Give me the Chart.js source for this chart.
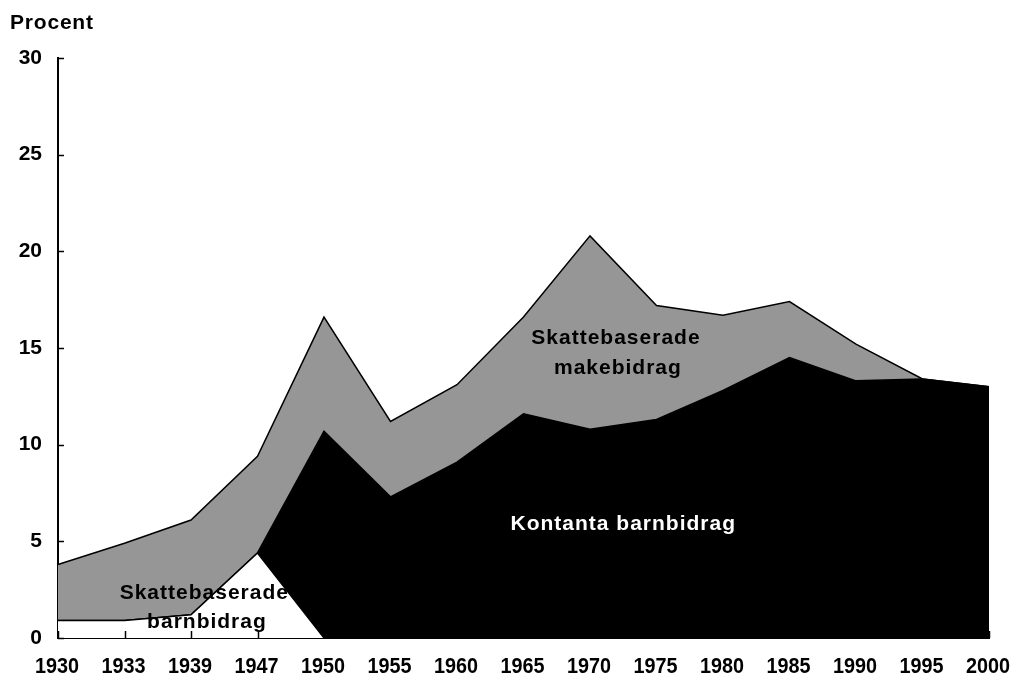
<!DOCTYPE html>
<html>
<head>
<meta charset="utf-8">
<script src="https://cdn.jsdelivr.net/npm/chart.js@4"></script>
<style>
  body { margin: 0; background: #fff; }
  #container { width: 1015px; height: 679px; position: relative; }
</style>
</head>
<body>
<div id="container"><canvas id="myChart"></canvas></div>
<script>
// data (percent)
const years = ['1930','1933','1939','1947','1950','1955','1960','1965','1970','1975','1980','1985','1990','1995','2000'];
const skatteBarnbidrag = [0.9, 0.9, 1.2, 4.4, 0, 0, 0, 0, 0, 0, 0, 0, 0, 0, 0];
const kontantaBarnbidrag = [0, 0, 0, 0, 10.7, 7.3, 9.1, 11.6, 10.8, 11.3, 12.8, 14.5, 13.3, 13.4, 13.0];
const skatteMakebidrag = [2.9, 4.0, 4.9, 5.0, 5.9, 3.9, 4.0, 5.0, 10.0, 5.9, 3.9, 2.9, 1.9, 0, 0];

const yMin = 0, yMax = 30, yStep = 5;
const yTitle = 'Procent';

// labels placed inside the areas, in data coordinates (category index, value)
const notes = [
  { text: 'Skattebaserade', x: 8.39, y: 15.2, color: '#000' },
  { text: 'makebidrag', x: 8.42, y: 13.65, color: '#000' },
  { text: 'Kontanta barnbidrag', x: 8.5, y: 5.6, color: '#fff' },
  { text: 'Skattebaserade', x: 2.2, y: 2.0, color: '#000' },
  { text: 'barnbidrag', x: 2.24, y: 0.52, color: '#000' }
];

const FONT = 'bold 21px "Liberation Sans", Arial, sans-serif';
const XFONT = 'bold 22px "Liberation Sans", Arial, sans-serif';
const XSQUEEZE = 0.9;

// inward tick marks, x labels (slightly condensed, like the original), notes and title
const extras = {
  id: 'extras',
  afterDatasetsDraw(chart) {
    const ctx = chart.ctx;
    const area = chart.chartArea;
    const xs = chart.scales.x, ys = chart.scales.y;
    ctx.save();
    ctx.strokeStyle = '#000';
    ctx.lineWidth = 1.5;
    ys.ticks.forEach((t, i) => {
      const y = Math.round(ys.getPixelForTick(i)) + 0.5;
      ctx.beginPath();
      ctx.moveTo(area.left, y);
      ctx.lineTo(area.left + 6, y);
      ctx.stroke();
    });
    xs.ticks.forEach((t, i) => {
      const x = Math.round(xs.getPixelForTick(i)) + 0.5;
      ctx.beginPath();
      ctx.moveTo(x, area.bottom);
      ctx.lineTo(x, area.bottom - 7);
      ctx.stroke();
    });

    // x tick labels
    ctx.save();
    ctx.font = XFONT;
    ctx.fillStyle = '#000';
    ctx.textAlign = 'center';
    ctx.textBaseline = 'alphabetic';
    ctx.scale(XSQUEEZE, 1);
    xs.ticks.forEach((t, i) => {
      const x = xs.getPixelForTick(i) - 1;
      ctx.fillText(xs.getLabelForValue(t.value), x / XSQUEEZE, area.bottom + 35);
    });
    ctx.restore();

    ctx.font = FONT;
    ctx.letterSpacing = '1px';
    ctx.textAlign = 'center';
    ctx.textBaseline = 'alphabetic';
    notes.forEach(n => {
      ctx.fillStyle = n.color;
      ctx.fillText(n.text, xs.getPixelForValue(n.x), ys.getPixelForValue(n.y));
    });

    ctx.letterSpacing = '0.8px';
    ctx.textAlign = 'left';
    ctx.fillStyle = '#000';
    ctx.fillText(yTitle, 10, 29);
    ctx.restore();
  }
};

const ctx = document.getElementById('myChart').getContext('2d');
const chart = new Chart(ctx, {
  type: 'line',
  data: {
    labels: years,
    datasets: [
      {
        label: 'Skattebaserade barnbidrag',
        data: skatteBarnbidrag,
        backgroundColor: '#ffffff',
        borderColor: '#000',
        borderWidth: 1.5,
        fill: 'origin'
      },
      {
        label: 'Kontanta barnbidrag',
        data: kontantaBarnbidrag,
        backgroundColor: '#000000',
        borderColor: '#000',
        borderWidth: 1.5,
        fill: '-1'
      },
      {
        label: 'Skattebaserade makebidrag',
        data: skatteMakebidrag,
        backgroundColor: '#969696',
        borderColor: '#000',
        borderWidth: 1.5,
        fill: '-1'
      }
    ]
  },
  options: {
    responsive: true,
    maintainAspectRatio: false,
    animation: false,
    layout: { padding: { left: 0, top: 58, right: 26, bottom: 0 } },
    elements: { point: { radius: 0 }, line: { tension: 0 } },
    plugins: {
      legend: { display: false },
      tooltip: { enabled: false }
    },
    scales: {
      x: {
        offset: false,
        grid: { drawOnChartArea: false, drawTicks: false },
        border: { color: '#000', width: 2 },
        ticks: { display: false, autoSkip: false },
        afterFit(scale) { scale.height = 41; }
      },
      y: {
        stacked: true,
        min: yMin,
        max: yMax,
        grid: { drawOnChartArea: false, drawTicks: false },
        border: { color: '#000', width: 2 },
        ticks: {
          stepSize: yStep,
          color: '#000',
          font: { family: '"Liberation Sans", Arial, sans-serif', size: 21, weight: 'bold' },
          padding: 16
        },
        afterFit(scale) { scale.width = 58; }
      }
    }
  },
  plugins: [extras]
});
</script>
</body>
</html>
